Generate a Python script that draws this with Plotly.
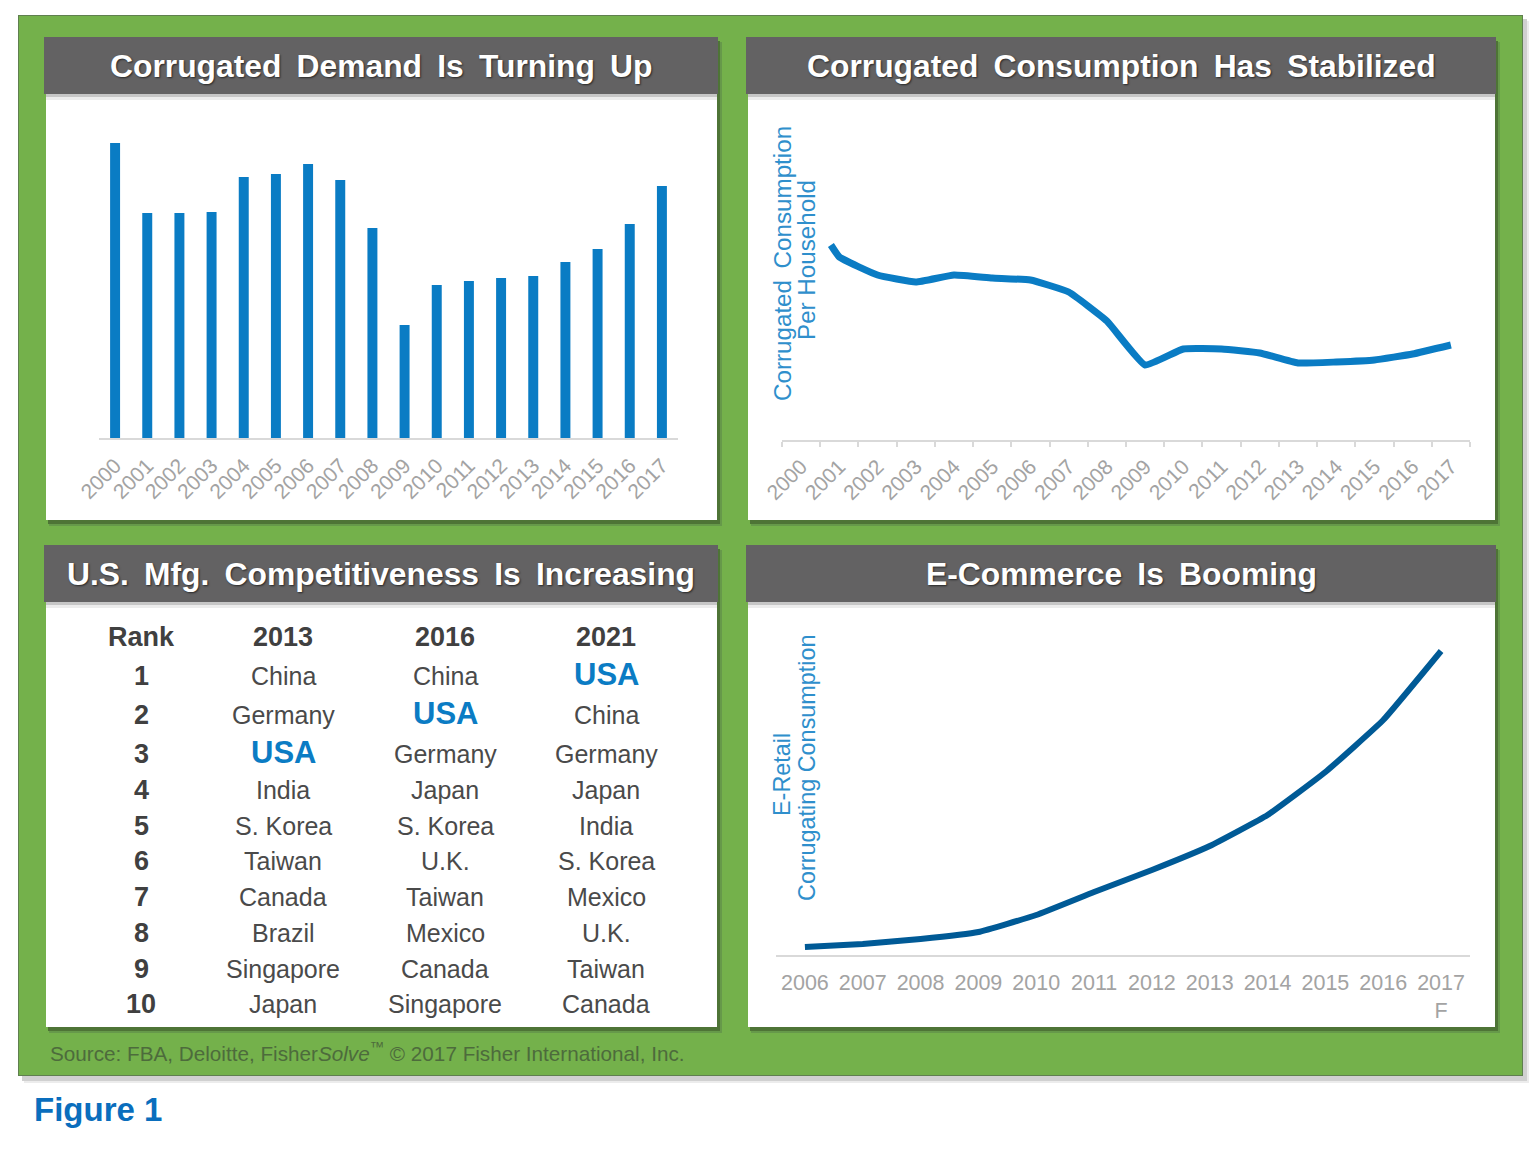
import plotly.graph_objects as go

W, H = 1540, 1149
FONT = "Liberation Sans"

# ---------- data ----------
years_demand = [str(y) for y in range(2000, 2018)]
demand = [295, 225, 225, 226, 261, 264, 274, 258, 210, 113, 153, 157, 160, 162, 176, 189, 214, 252]

years_consumption = [2000.78, 2001, 2002, 2003, 2004, 2005, 2006, 2007, 2008, 2009,
                     2010, 2011, 2012, 2013, 2014, 2015, 2016, 2017]
consumption = [195, 183, 165, 158, 165, 162, 160, 148, 119, 75, 91, 91, 87, 77, 78, 80, 86, 95]
consumption_ticks = list(range(2000, 2018))

years_ecom = [str(y) for y in range(2006, 2017)] + ["2017<br>F"]
ecommerce = [8, 11, 16, 23, 40, 63, 85, 109, 140, 183, 235, 304]

rank_labels = ["Rank", "1", "2", "3", "4", "5", "6", "7", "8", "9", "10"]
rank_2013 = ["2013", "China", "Germany", "USA", "India", "S. Korea", "Taiwan", "Canada", "Brazil", "Singapore", "Japan"]
rank_2016 = ["2016", "China", "USA", "Germany", "Japan", "S. Korea", "U.K.", "Taiwan", "Mexico", "Canada", "Singapore"]
rank_2021 = ["2021", "USA", "China", "Germany", "Japan", "India", "S. Korea", "Mexico", "U.K.", "Taiwan", "Canada"]

titles = ["Corrugated Demand Is Turning Up", "Corrugated Consumption Has Stabilized",
          "U.S. Mfg. Competitiveness Is Increasing", "E-Commerce Is Booming"]

# ---------- layout helpers ----------
def px(x): return x / W
def py(y): return 1 - y / H

shapes, notes = [], []

def rect(x0, y0, x1, y1, fill):
    shapes.append(dict(type="rect", xref="paper", yref="paper", layer="below",
                       x0=px(x0), x1=px(x1), y0=py(y0), y1=py(y1),
                       fillcolor=fill, line=dict(width=0)))

def note(x, y, text, size, color, bold=False, anchor="center", angle=0, shadow=None):
    font = dict(family=FONT, size=size, color=color, weight="bold" if bold else "normal")
    if shadow:
        font["shadow"] = shadow
    notes.append(dict(xref="paper", yref="paper", x=px(x), y=py(y), text=text, showarrow=False,
                      xanchor=anchor, yanchor="middle", textangle=angle, font=font))

# outer green panel with shadow
rect(24, 21, 1529, 1083, "#ececec")
rect(22, 19, 1527, 1081, "#d0d0d0")
rect(18, 15, 1523, 1076, "#5f7f4f")
rect(19, 16, 1522, 1075, "#74b14b")

panels = [(46, 717, 37, 520), (748, 1495, 37, 520), (46, 717, 545, 1027), (748, 1495, 545, 1027)]
for i, (x0, x1, top, bottom) in enumerate(panels):
    rect(x0 + 3, top + 5, x1 + 5, bottom + 6, "#66994a")
    rect(x0 + 2, top + 4, x1 + 3, bottom + 4, "#4e7436")
    rect(x0, top + 50, x1, bottom, "#ffffff")
    rect(x0, top + 57, x1, top + 63, "#ececec")
    rect(x0, top + 57, x1, top + 60, "#c6c6c6")
    rect(x0 - 2, top, x1 + 1, top + 57, "#636263")
    note((x0 + x1) / 2 - 0.5, top + 29, titles[i].replace(" ", "\u00a0\u2009"), 31.8, "#ffffff", bold=True,
         shadow="1px 1px 2px rgba(0,0,0,0.6)")

# competitiveness table
row_y = [637, 676, 715, 754, 790, 826, 861, 897, 933, 969, 1004]
col_x = [141, 283, 445, 606]
for cx, col, is_rank in zip(col_x, [rank_labels, rank_2013, rank_2016, rank_2021], [True, False, False, False]):
    for r, (ry, label) in enumerate(zip(row_y, col)):
        if label == "USA":
            note(cx, ry - 2, label, 31, "#0b7cc4", bold=True)
        elif r == 0 or is_rank:
            note(cx, ry, label, 27, "#404040", bold=True)
        else:
            note(cx, ry, label, 25, "#4a4a4a")

# axis titles, source, figure label
note(782, 264, "Corrugated\u00a0\u2009Consumption", 24.2, "#2f8fcc", angle=-90)
note(807, 260, "Per Household", 24.2, "#2f8fcc", angle=-90)
note(782, 775, "E-Retail", 23.4, "#2f8fcc", angle=-90)
note(807, 768, "Corrugating Consumption", 23.4, "#2f8fcc", angle=-90)
note(48, 1052, "Source: FBA, Deloitte, Fisher<i>Solve</i><sup>™</sup> © 2017 Fisher International, Inc.",
     20.7, "#4d6b3c", anchor="left")
note(32, 1109, "Figure 1", 33, "#0a6ebd", bold=True, anchor="left")

fig = go.Figure()

fig.add_trace(go.Bar(x=years_demand, y=demand, marker=dict(color="#0a7cc4", line=dict(width=0)),
                     xaxis="x", yaxis="y", showlegend=False))
fig.add_trace(go.Scatter(x=years_consumption, y=consumption, mode="lines",
                         line=dict(color="#0a7cc4", width=7, shape="spline", smoothing=0.35),
                         xaxis="x2", yaxis="y2", showlegend=False))
fig.add_trace(go.Scatter(x=years_ecom, y=ecommerce, mode="lines",
                         line=dict(color="#005a96", width=6, shape="spline", smoothing=0.35),
                         xaxis="x3", yaxis="y3", showlegend=False))

def xdom(a, b): return [px(a), px(b)]
def ydom(top, bottom): return [py(bottom), py(top)]

tick_font = dict(family=FONT, size=21, color="#a3a3a3")
hidden_y = dict(visible=False, showgrid=False, zeroline=False, automargin=False)

fig.update_layout(
    width=W, height=H, margin=dict(l=0, r=0, t=0, b=0, autoexpand=False),
    paper_bgcolor="#ffffff", plot_bgcolor="rgba(0,0,0,0)",
    bargap=0.69, shapes=shapes, annotations=notes,
    xaxis=dict(domain=xdom(99, 678), type="category", tickangle=-45, tickfont=tick_font, automargin=False,
               showline=True, linecolor="#d9d9d9", linewidth=2, showgrid=False, ticks="", ticklabelstandoff=5),
    yaxis=dict(domain=ydom(100, 438), range=[0, 338], anchor="x", **hidden_y),
    xaxis2=dict(domain=xdom(782, 1470), range=[1999.5, 2017.5], tickmode="array",
                tickvals=consumption_ticks, ticktext=[str(v) for v in consumption_ticks], automargin=False,
                tickangle=-45, tickfont=tick_font, showline=True, linecolor="#d9d9d9", linewidth=2,
                showgrid=False, ticks="", ticklabelstandoff=4,
                minor=dict(tick0=1999.5, dtick=1, ticks="outside", ticklen=5, tickcolor="#d9d9d9", tickwidth=2),
                anchor="y2"),
    yaxis2=dict(domain=ydom(100, 440), range=[0, 340], anchor="x2", **hidden_y),
    xaxis3=dict(domain=xdom(776, 1470), type="category", range=[-0.5, 11.5], automargin=False,
                tickfont=dict(family=FONT, size=21.5, color="#a3a3a3"), ticklabelstandoff=7,
                showline=True, linecolor="#d9d9d9", linewidth=2, showgrid=False, ticks="", anchor="y3"),
    yaxis3=dict(domain=ydom(610, 955), range=[0, 345], anchor="x3", **hidden_y),
)

fig.write_html("out.html", config={"displayModeBar": False}, post_script="document.body.style.margin='0';")
